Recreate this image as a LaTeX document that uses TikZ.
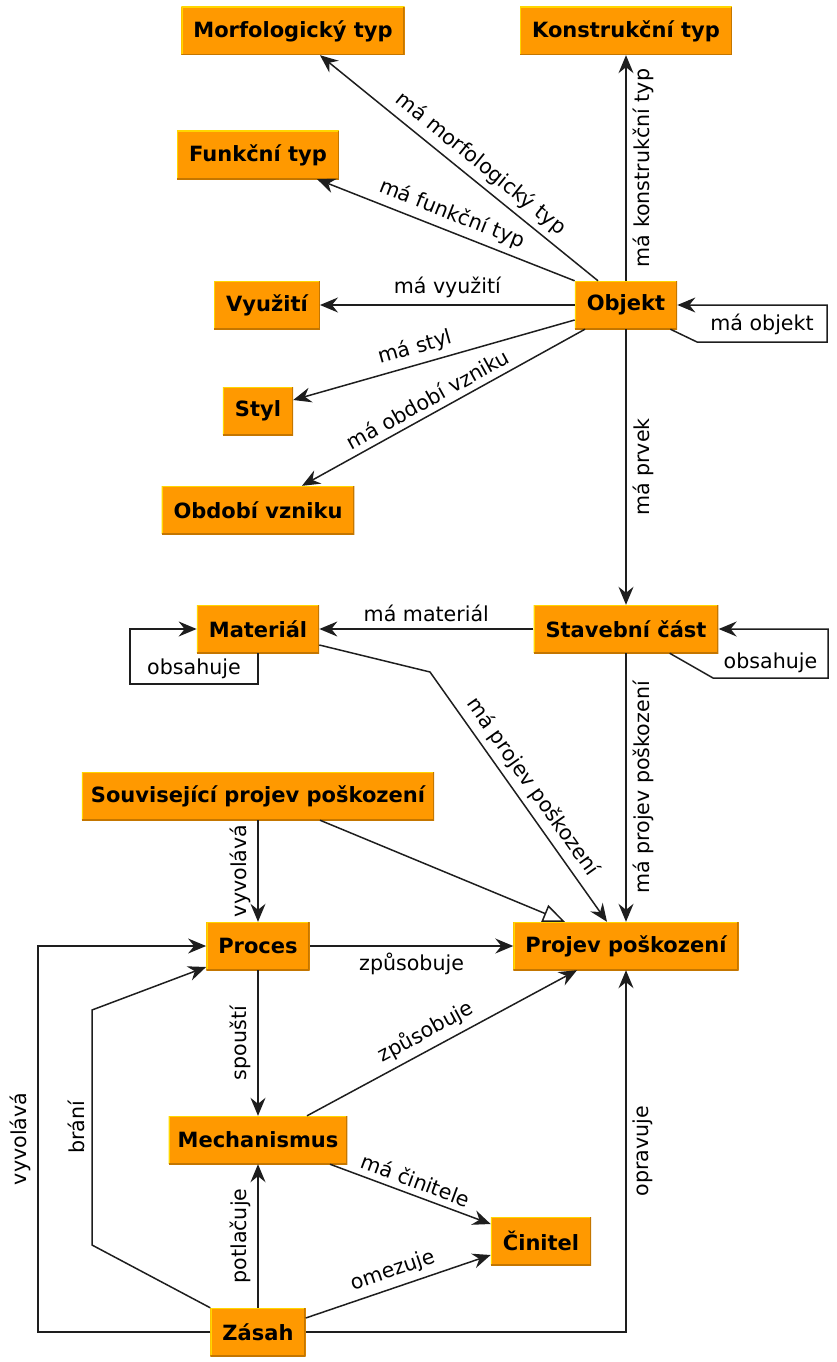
\documentclass[tikz,border=0pt]{standalone}
\usepackage{fontspec}
\setmainfont{DejaVu Sans}
\usetikzlibrary{arrows.meta}

\definecolor{boxfill}{RGB}{255,153,0}
\definecolor{boxlight}{RGB}{255,214,0}
\definecolor{boxdark}{RGB}{196,118,0}
\definecolor{linegray}{RGB}{30,30,30}

\begin{document}
\begin{tikzpicture}[x=1pt, y=-1pt,
    concept/.style={fill=boxfill, minimum height=48pt, inner xsep=12pt,
        font=\fontsize{21}{25}\selectfont\bfseries,
        path picture={
            \draw[boxlight, line width=2.4pt] (path picture bounding box.south west)
                |- (path picture bounding box.north east);
            \draw[boxdark, line width=2.4pt] (path picture bounding box.south west)
                -| (path picture bounding box.north east);}},
    rel/.style={draw=linegray, line width=1.5pt,
        -{Stealth[length=18pt, width=15pt, inset=6pt]}},
    genrel/.style={draw=linegray, line width=1.5pt,
        -{Triangle[open, length=22pt, width=18pt, fill=white]}},
    lbl/.style={font=\fontsize{20.6}{24}\selectfont, inner sep=6pt}]
    \useasboundingbox (0,0) rectangle (836,1362);

    \node[concept] (morfo) at (293,31) {Morfologický typ};
    \node[concept] (konstr) at (626,31) {Konstrukční typ};
    \node[concept] (funkc) at (258,155) {Funkční typ};
    \node[concept] (vyuziti) at (267,305) {Využití};
    \node[concept] (objekt) at (626,305) {Objekt};
    \node[concept] (styl) at (258,411) {Styl};
    \node[concept] (obdobi) at (258,510) {Období vzniku};
    \node[concept] (material) at (258,629) {Materiál};
    \node[concept] (cast) at (626,629) {Stavební část};
    \node[concept, inner xsep=9pt] (souvis) at (258,796) {Související projev poškození};
    \node[concept] (proces) at (258,946) {Proces};
    \node[concept] (projev) at (626,946) {Projev poškození};
    \node[concept, inner xsep=9pt] (mech) at (258,1140) {Mechanismus};
    \node[concept] (cinitel) at (541,1241) {Činitel};
    \node[concept] (zasah) at (258,1332) {Zásah};

    \draw[rel] ([xshift=-28pt]objekt.north) --
        node[lbl, sloped, above, pos=0.46] {má morfologický typ} ([xshift=27pt]morfo.south);
    \draw[rel] (objekt.north) --
        node[lbl, rotate=90, anchor=north] {má konstrukční typ} (konstr.south);
    \draw[rel] (objekt.north west) --
        node[lbl, sloped, above] {má funkční typ} ([xshift=-22pt]funkc.south east);
    \draw[rel] (objekt.west) --
        node[lbl, above] {má využití} (vyuziti.east);
    \draw[rel] ([yshift=-15pt]objekt.west) --
        node[lbl, sloped, above, pos=0.55] {má styl} ([yshift=11pt]styl.east);
    \draw[rel] ([xshift=-41pt]objekt.south) --
        node[lbl, sloped, above, pos=0.53] {má období vzniku} ([xshift=44pt]obdobi.north);
    \draw[rel] ([xshift=-7pt]objekt.south east) -- (697,342) --
        node[lbl, above] {má objekt} (827,342) |- (objekt.east);
    \draw[rel] (objekt.south) --
        node[lbl, rotate=90, anchor=north] {má prvek} (cast.north);

    \draw[rel] (cast.west) --
        node[lbl, above] {má materiál} (material.east);
    \draw[rel] (material.south) -- (258,684) --
        node[lbl, above, inner sep=4pt] {obsahuje} (130,684) |- (material.west);
    \draw[rel] ([xshift=-49pt]cast.south east) -- (713,678) --
        node[lbl, above, inner sep=4pt] {obsahuje} (828,678) |- (cast.east);
    \draw[rel] (cast.south) --
        node[lbl, rotate=90, anchor=north] {má projev poškození} (projev.north);
    \draw[rel] ([yshift=-16pt]material.east) -- (430,672) --
        node[lbl, sloped, above] {má projev poškození} ([xshift=-19pt]projev.north);

    \draw[genrel] ([xshift=62pt]souvis.south) -- ([xshift=-61pt]projev.north);
    \draw[rel] (souvis.south) --
        node[lbl, rotate=90, anchor=south] {vyvolává} (proces.north);
    \draw[rel] (proces.east) --
        node[lbl, below] {způsobuje} (projev.west);
    \draw[rel] (proces.south) --
        node[lbl, rotate=90, anchor=south] {spouští} (mech.north);
    \draw[rel] ([xshift=49pt]mech.north) --
        node[lbl, sloped, above, pos=0.47] {způsobuje} ([xshift=-49pt]projev.south);
    \draw[rel] ([xshift=72pt]mech.south) --
        node[lbl, sloped, above] {má činitele} ([yshift=17pt]cinitel.west);

    \draw[rel] (zasah.north) --
        node[lbl, rotate=90, anchor=south] {potlačuje} (mech.south);
    \draw[rel] ([yshift=14pt]zasah.east) --
        node[lbl, sloped, above] {omezuje} ([yshift=-14pt]cinitel.west);
    \draw[rel] (zasah.north west) -- (92,1245) --
        node[lbl, rotate=90, anchor=south] {brání} (92,1010) -- ([yshift=-21pt]proces.west);
    \draw[rel] (zasah.west) -| node[lbl, rotate=90, anchor=south, pos=0.75] {vyvolává} (38,946)
        -- (proces.west);
    \draw[rel] (zasah.east) -|
        node[lbl, rotate=90, anchor=north, pos=0.75] {opravuje} (projev.south);
\end{tikzpicture}
\end{document}
